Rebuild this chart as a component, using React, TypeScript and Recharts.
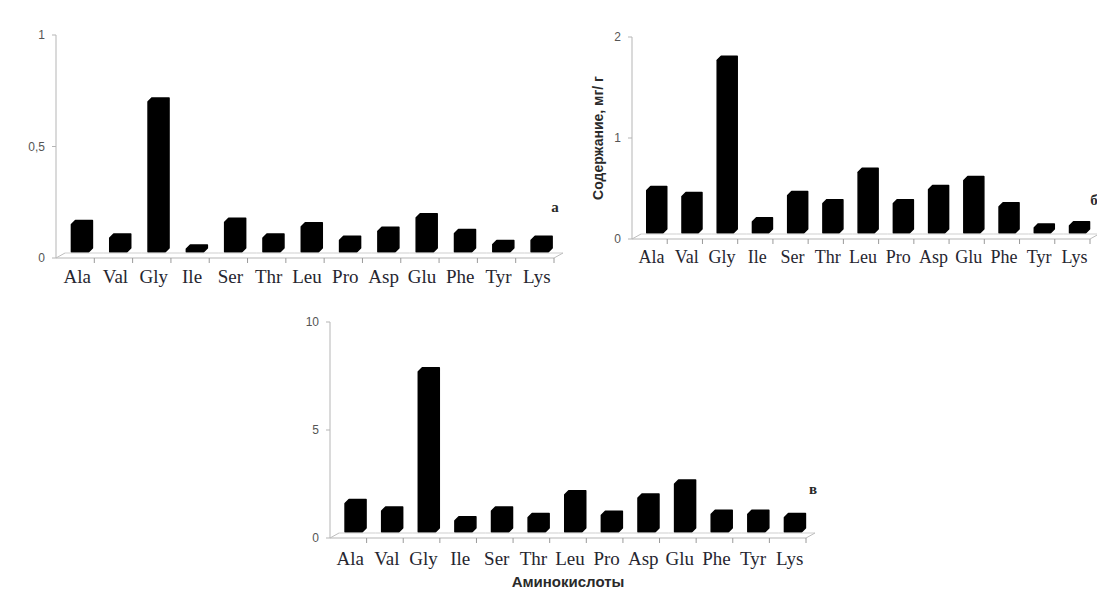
import React from "react";
import { BarChart, Bar, XAxis, YAxis } from "recharts";

const categories = ["Ala", "Val", "Gly", "Ile", "Ser", "Thr", "Leu", "Pro", "Asp", "Glu", "Phe", "Tyr", "Lys"];

// а — values, mg/g
const valuesA = [0.15, 0.09, 0.7, 0.04, 0.16, 0.09, 0.14, 0.08, 0.12, 0.18, 0.11, 0.06, 0.08];
// б
const valuesB = [0.48, 0.42, 1.77, 0.17, 0.43, 0.35, 0.66, 0.35, 0.49, 0.58, 0.32, 0.11, 0.13];
// в
const valuesC = [1.6, 1.25, 7.7, 0.8, 1.25, 0.95, 2.0, 1.05, 1.85, 2.5, 1.1, 1.1, 0.95];

const ticksA = [0, 0.5, 1];
const ticksB = [0, 1, 2];
const ticksC = [0, 5, 10];

const DX = 9; // floor depth
const DY = 5;
const SHIFT = 7; // bars sit at the back of the floor
const LIFT = 4;

const fmt = (v: number) => String(v).replace(".", ",");

const Bar3D = (props: any) => {
  const { x, y, width, height } = props;
  if (!height || height <= 0) return null;
  const c = 4;
  const x0 = x + SHIFT;
  const x1 = x0 + width - c;
  const yt = y - LIFT;
  const yb = y + height - DY - 1;
  const d = `M${x0},${yt + c} L${x0 + c},${yt} L${x1 + c},${yt} L${x1 + c},${yb - c} L${x1},${yb} L${x0},${yb} Z`;
  return <path d={d} fill="#000" stroke="#000" strokeWidth={1.5} strokeLinejoin="round" />;
};

const AxisTick = (props: any) => {
  const { x, y, payload, index, visibleTicksCount, width, band, labelDy, fontSize } = props;
  const bw = width && visibleTicksCount ? width / visibleTicksCount : band;
  const left = x - bw / 2;
  const right = x + bw / 2;
  const last = index === visibleTicksCount - 1;
  return (
    <g>
      <line x1={left + DX} y1={y - DY} x2={right + DX} y2={y - DY} stroke="#cfcfcf" />
      {index === 0 && <line x1={left} y1={y} x2={left + DX} y2={y - DY} stroke="#bdbdbd" />}
      {last && <line x1={right} y1={y} x2={right + DX} y2={y - DY} stroke="#bdbdbd" />}
      <line x1={right} y1={y} x2={right} y2={y + 5} stroke="#9a9a9a" />
      <text
        x={x + 2}
        y={y + labelDy}
        textAnchor="middle"
        fill="#262630"
        fontFamily="'Liberation Serif', serif"
        fontSize={fontSize}
      >
        {payload.value}
      </text>
    </g>
  );
};

interface PanelProps {
  values: number[];
  ticks: number[];
  width: number;
  height: number;
  margin: { top: number; right: number; left: number; bottom: number };
  yWidth: number;
  xHeight: number;
  labelDy: number;
  fontSize: number;
  yLabel?: string;
  xLabel?: string;
}

function Panel({ values, ticks, width, height, margin, yWidth, xHeight, labelDy, fontSize, yLabel, xLabel }: PanelProps) {
  const data = categories.map((name, i) => ({ name, value: values[i] }));
  const band = (width - margin.left - margin.right - yWidth) / categories.length;
  return (
    <BarChart width={width} height={height} data={data} margin={margin} barCategoryGap="22%">
      <XAxis
        dataKey="name"
        height={xHeight}
        interval={0}
        tickSize={0}
        tickMargin={0}
        axisLine={{ stroke: "#b5b5b5" }}
        tick={(p: any) => <AxisTick {...p} band={band} labelDy={labelDy} fontSize={fontSize} />}
        label={
          xLabel
            ? {
                value: xLabel,
                position: "insideBottom",
                offset: 3,
                style: { fontFamily: "'Liberation Sans', sans-serif", fontWeight: 700, fontSize: 15, fill: "#2a2a2a" },
              }
            : undefined
        }
      />
      <YAxis
        width={yWidth}
        domain={[ticks[0], ticks[ticks.length - 1]]}
        ticks={ticks}
        tickFormatter={fmt}
        tickSize={4}
        tickMargin={7}
        axisLine={{ stroke: "#b5b5b5" }}
        tickLine={{ stroke: "#b5b5b5" }}
        tick={{ fontSize: 12, fill: "#555", fontFamily: "'Liberation Sans', sans-serif" }}
        label={
          yLabel
            ? {
                value: yLabel,
                angle: -90,
                position: "insideLeft",
                offset: 18,
                style: {
                  textAnchor: "middle",
                  fontFamily: "'Liberation Sans', sans-serif",
                  fontWeight: 700,
                  fontSize: 14,
                  fill: "#2a2a2a",
                },
              }
            : undefined
        }
      />
      <Bar dataKey="value" shape={Bar3D} isAnimationActive={false} />
    </BarChart>
  );
}

const letterStyle: React.CSSProperties = {
  position: "absolute",
  transform: "translate(-50%, -50%)",
  fontFamily: "'Liberation Serif', serif",
  fontWeight: 700,
  fontSize: 15,
  color: "#2a2a2a",
};

export default function App() {
  return (
    <div style={{ position: "absolute", left: 0, top: 0, width: 1097, height: 590, background: "#fff", overflow: "hidden" }}>
      <div style={{ position: "absolute", left: 0, top: 0 }}>
        <Panel
          values={valuesA}
          ticks={ticksA}
          width={580}
          height={290}
          margin={{ top: 35, right: 26, left: 0, bottom: 0 }}
          yWidth={56}
          xHeight={32}
          labelDy={25}
          fontSize={19}
        />
      </div>
      <div style={{ position: "absolute", left: 580, top: 0 }}>
        <Panel
          values={valuesB}
          ticks={ticksB}
          width={517}
          height={290}
          margin={{ top: 37, right: 7, left: 0, bottom: 0 }}
          yWidth={52}
          xHeight={51}
          labelDy={24}
          fontSize={18}
          yLabel="Содержание, мг/ г"
        />
      </div>
      <div style={{ position: "absolute", left: 280, top: 300 }}>
        <Panel
          values={valuesC}
          ticks={ticksC}
          width={560}
          height={290}
          margin={{ top: 22, right: 34, left: 0, bottom: 0 }}
          yWidth={50}
          xHeight={52}
          labelDy={27}
          fontSize={19}
          xLabel="Аминокислоты"
        />
      </div>
      <div style={{ ...letterStyle, left: 555, top: 207 }}>а</div>
      <div style={{ ...letterStyle, left: 1094, top: 200 }}>б</div>
      <div style={{ ...letterStyle, left: 813, top: 489 }}>в</div>
    </div>
  );
}
